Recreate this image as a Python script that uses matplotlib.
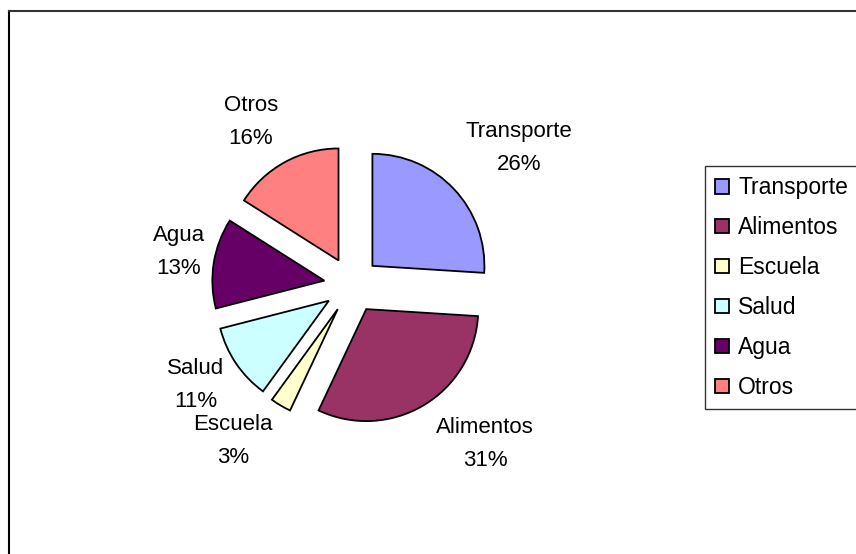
import matplotlib.pyplot as plt
from matplotlib.lines import Line2D

plt.rcParams['font.family'] = ['Liberation Sans', 'DejaVu Sans']

categories = ["Transporte", "Alimentos", "Escuela", "Salud", "Agua", "Otros"]
shares = [26, 31, 3, 11, 13, 16]
colors = ["#9999FF", "#993366", "#FFFFCC", "#CCFFFF", "#660066", "#FF8080"]

W, H = 856, 554
fig = plt.figure(figsize=(W / 100, H / 100), dpi=100)
ax = fig.add_axes([0, 0, 1, 1])

# pie centre / radius in pixels
cx, cy, r = 352, 285, 112

# label block positions relative to the pie centre, pixels (x right, y up)
label_offsets = [(167, 137), (133, -159), (-119, -156),
                 (-156, -100), (-173, 33), (-101, 163)]

labels = [f"{c}\n{v}%" for c, v in zip(categories, shares)]
wedges, texts = ax.pie(shares, labels=labels, colors=colors, startangle=90,
                       counterclock=False, explode=[0.25] * len(shares),
                       radius=1,
                       wedgeprops=dict(edgecolor='black', linewidth=1.3),
                       textprops=dict(fontsize=16, linespacing=1.7))
for t, (dx, dy) in zip(texts, label_offsets):
    t.set_position((dx / r, dy / r))
    t.set_ha('center')
    t.set_va('center')

ax.set_xlim(-cx / r, (W - cx) / r)
ax.set_ylim(-(H - cy) / r, cy / r)
ax.set_aspect('equal')
ax.axis('off')

leg = fig.legend(wedges, categories, loc='upper left',
                 bbox_to_anchor=(705 / W, 1 - 166 / H),
                 fontsize=16.5, frameon=True, fancybox=False,
                 edgecolor='black', handlelength=0.6, handleheight=0.6,
                 handletextpad=0.4, labelspacing=0.74, borderpad=0.45,
                 borderaxespad=0)
leg.get_frame().set_linewidth(1.0)

# outer chart frame (only top and left edge visible)
fig.add_artist(Line2D([9 / W, 9 / W], [0, 1 - 11 / H], color='black', lw=1.5))
fig.add_artist(Line2D([9 / W, 1], [1 - 11 / H, 1 - 11 / H], color='#333333', lw=1.5))

fig.savefig("out.png", dpi=100)
